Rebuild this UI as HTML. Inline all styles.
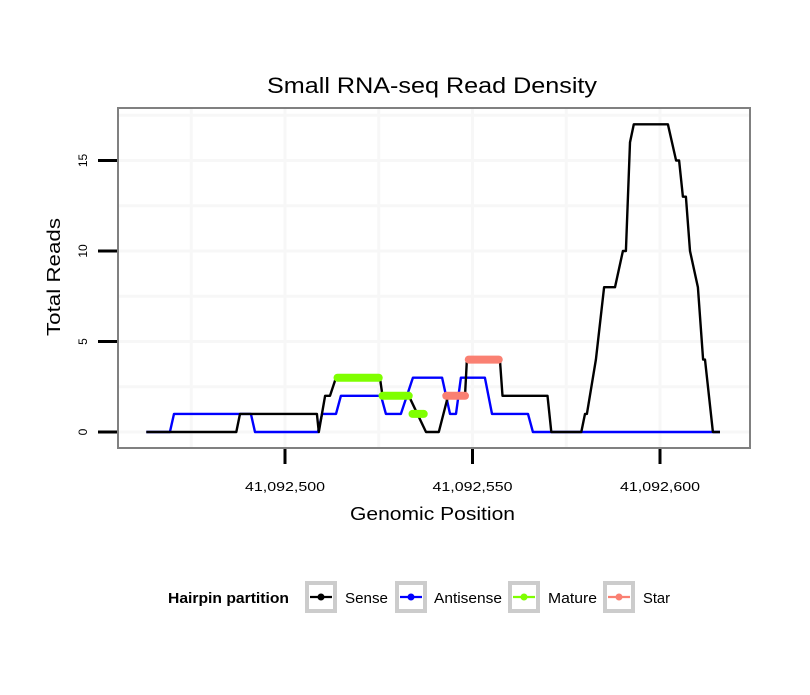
<!DOCTYPE html>
<html><head><meta charset="utf-8"><style>
body{margin:0;background:#fff;}
svg text{font-family:"Liberation Sans",sans-serif;}
</style></head><body>
<svg id="c" width="810" height="690" xmlns="http://www.w3.org/2000/svg">
<rect width="810" height="690" fill="#fff"/>
<text x="267" y="93" font-size="22" textLength="330" lengthAdjust="spacingAndGlyphs">Small RNA-seq Read Density</text>
<g id="grid"></g>
<g id="series"></g>
<rect x="118" y="108" width="632" height="340" fill="none" stroke="#808080" stroke-width="2"/>
<g id="axes"></g>
<text x="350" y="520" font-size="18" textLength="165" lengthAdjust="spacingAndGlyphs">Genomic Position</text>
<text x="0" y="0" font-size="18" text-anchor="middle" textLength="118" lengthAdjust="spacingAndGlyphs" transform="translate(60,277) rotate(-90)">Total Reads</text>
<g id="legend"></g>
</svg>
<script>
const senseX=[463,487,488,508.5,509,510.7,512,513.6,525.3,526,533,537.6,541,543.5,548,548.5,557.3,558,570,571,579,580,580.5,582.1,582.9,585.1,588,590.1,590.9,592,593,602.1,604.3,605.1,606.1,606.9,608,610.1,611.5,612,614.1,616];
const senseY=[0,0,1,1,0,2,2,3,3,2,2,0,0,2,2,4,4,2,2,0,0,1,1,3,4,8,8,10,10,16,17,17,15,15,13,13,10,8,4,4,0,0];
const antiX=[463,469.3,470.4,490.9,492,508.8,509.9,513.6,514.9,525.6,526.9,530.9,534.1,541.9,544,545.6,546.9,553.3,555.2,564.8,566.1,616];
const antiY=[0,0,1,1,0,0,1,1,2,2,1,1,3,3,1,1,3,3,1,1,0,0];
const matureSegs=[[514,525,3],[526,533,2],[534,537,1]];
const starSegs=[[543,548,2],[549,557,4]];
const yTicks=[0,5,10,15];
const xTicks=[500,550,600];
const xLabels=["41,092,500","41,092,550","41,092,600"];
const legendNames=["Sense","Antisense","Mature","Star"];
const legendColors=["#000000","#0000ff","#7fff00","#fa8072"];

const NS="http://www.w3.org/2000/svg";
const sx=p=>285+(p-500)*3.75;
const sy=v=>432-v*18.1;
function mk(tag,attrs,parent){const e=document.createElementNS(NS,tag);for(const k in attrs)e.setAttribute(k,attrs[k]);parent.appendChild(e);return e;}
const grid=document.getElementById('grid'),series=document.getElementById('series'),axes=document.getElementById('axes'),legend=document.getElementById('legend');
mk('rect',{x:118,y:108,width:632,height:340,fill:'#ffffff'},grid);
for(let v=-2.5;v<=17.5;v+=2.5){const y=sy(v);if(y<110||y>446)continue;
 const l=mk('line',{x1:119,x2:749,y1:y,y2:y,stroke:'#f7f7f7','stroke-width':3},grid);
 
 }
for(let p=475;p<=625;p+=25){const x=sx(p);if(x<120||x>748)continue;
 const l=mk('line',{x1:x,x2:x,y1:109,y2:447,stroke:'#f7f7f7','stroke-width':3},grid);
 
 }
function path(xs,ys){return xs.map((p,i)=>(i?'L':'M')+sx(p).toFixed(1)+','+sy(ys[i]).toFixed(1)).join('');}
const ap=mk('path',{d:path(antiX,antiY),fill:'none',stroke:'#0000ff','stroke-width':2.4,'stroke-linejoin':'round'},series);


const sp=mk('path',{d:path(senseX,senseY),fill:'none',stroke:'#000','stroke-width':2.4,'stroke-linejoin':'round'},series);


function segs(list,color,name){list.forEach(s=>{
 const l=mk('line',{x1:sx(s[0]),x2:sx(s[1]),y1:sy(s[2]),y2:sy(s[2]),stroke:color,'stroke-width':8,'stroke-linecap':'round'},series);
 
 });}
segs(matureSegs,'#7fff00','mature-segment');
segs(starSegs,'#fa8072','star-segment');
yTicks.forEach(v=>{const y=sy(v);
 const t=mk('line',{x1:98,x2:117,y1:y,y2:y,stroke:'#000','stroke-width':3},axes);
 
 
 const tx=mk('text',{x:0,y:0,'font-size':12,'text-anchor':'middle',transform:`translate(87,${y}) rotate(-90)`},axes);
 tx.textContent=v;
 
 });
xTicks.forEach((p,i)=>{const x=sx(p);
 const t=mk('line',{x1:x,x2:x,y1:449,y2:464,stroke:'#000','stroke-width':3},axes);
 
 
 const tx=mk('text',{x:x-40,y:491,'font-size':13,textLength:80,lengthAdjust:'spacingAndGlyphs'},axes);
 tx.textContent=xLabels[i];
 
 });
const lt=mk('text',{x:168,y:603,'font-size':15,'font-weight':'bold',textLength:121,lengthAdjust:'spacingAndGlyphs'},legend);
lt.textContent='Hairpin partition';


const boxX=[305,395,508,603],labX=[345,434,548,643],labW=[43,68,49,27];
legendNames.forEach((n,i)=>{
 const g=mk('g',{},legend);
 
 
 mk('rect',{x:boxX[i]+2,y:583,width:28,height:28,fill:'#fff',stroke:'#cccccc','stroke-width':4},g);
 mk('line',{x1:boxX[i]+5,x2:boxX[i]+27,y1:597,y2:597,stroke:legendColors[i],'stroke-width':2.2},g);
 mk('circle',{cx:boxX[i]+16,cy:597,r:3.5,fill:legendColors[i]},g);
 const t=mk('text',{x:labX[i],y:603,'font-size':15,textLength:labW[i],lengthAdjust:'spacingAndGlyphs'},g);t.textContent=n;});
</script>
</body></html>
